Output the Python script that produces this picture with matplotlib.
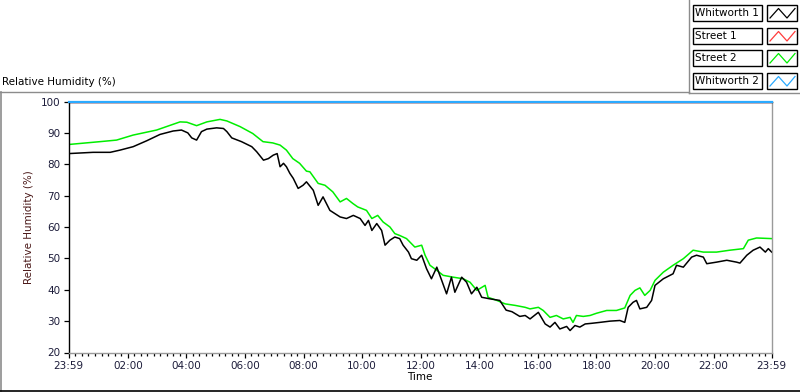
import numpy as np
import matplotlib
matplotlib.use('Agg')
import matplotlib.pyplot as plt
from matplotlib.lines import Line2D
from matplotlib.patches import Rectangle

#%% data (minutes after 23:59 start, relative humidity %)
t_whit1 = [0, 50, 85, 105, 132, 160, 187, 214, 231, 244, 252, 262, 272, 283, 303, 317, 324, 334,
           354, 375, 385, 399, 409, 419, 427, 433, 440, 446, 453, 460, 470, 480, 487, 501, 511,
           521, 535, 545, 556, 569, 583, 597, 607, 614, 621, 631, 641, 648, 658, 668, 678, 685,
           696, 702, 713, 723, 733, 743, 754, 764, 774, 784, 791, 805, 815, 825, 836, 846, 863,
           883, 896, 908, 924, 935, 945, 962, 976, 986, 996, 1006, 1020, 1027, 1037, 1047, 1058,
           1071, 1088, 1109, 1129, 1139, 1146, 1156, 1163, 1170, 1184, 1194, 1201, 1218, 1238,
           1245, 1259, 1276, 1286, 1300, 1307, 1327, 1348, 1368, 1375, 1389, 1402, 1416, 1427,
           1433, 1440]
rh_whit1 = [83.4, 83.8, 83.8, 84.5, 85.6, 87.5, 89.5, 90.6, 90.9, 90.0, 88.4, 87.7, 90.4, 91.2,
            91.6, 91.4, 90.4, 88.4, 87.2, 85.6, 84.0, 81.3, 81.8, 82.9, 83.4, 79.2, 80.3, 79.2,
            77.1, 75.5, 72.3, 73.3, 74.4, 71.7, 66.9, 69.6, 65.3, 64.3, 63.2, 62.7, 63.7, 62.7,
            60.5, 62.1, 58.9, 61.1, 58.9, 54.2, 55.8, 56.8, 56.3, 54.2, 52.0, 49.9, 49.4, 51.0,
            46.7, 43.5, 47.2, 43.0, 38.7, 44.0, 39.2, 44.0, 42.4, 38.7, 40.8, 37.6, 37.1, 36.6,
            33.5, 33.0, 31.5, 31.8, 30.7, 32.8, 29.1, 28.1, 29.6, 27.5, 28.3, 27.0, 28.6, 28.1,
            29.1, 29.3, 29.6, 30.0, 30.2, 29.6, 34.4, 36.0, 36.6, 33.9, 34.4, 36.6, 41.4, 43.5,
            45.1, 47.8, 47.2, 50.4, 51.0, 50.4, 48.3, 48.8, 49.4, 48.8, 48.5, 51.0, 52.6, 53.6,
            52.0, 53.1, 52.0]

t_street2 = [0, 64, 98, 132, 180, 228, 242, 262, 283, 310, 324, 351, 377, 398, 418, 433, 446,
             459, 473, 487, 494, 511, 525, 541, 556, 569, 582, 592, 610, 621, 633, 644, 658, 668,
             678, 692, 709, 723, 730, 740, 754, 767, 788, 808, 822, 836, 853, 859, 877, 894, 915,
             935, 945, 962, 972, 986, 999, 1013, 1027, 1033, 1040, 1054, 1068, 1081, 1102, 1122,
             1139, 1150, 1160, 1170, 1180, 1191, 1201, 1218, 1238, 1259, 1279, 1300, 1327, 1354,
             1382, 1392, 1409, 1440]
rh_street2 = [86.3, 87.2, 87.7, 89.3, 90.9, 93.5, 93.4, 92.3, 93.5, 94.3, 93.8, 92.0, 89.8, 87.2,
              86.8, 86.1, 84.5, 81.8, 80.3, 77.8, 77.6, 73.9, 73.3, 71.2, 68.0, 69.1, 67.5, 66.4,
              65.3, 62.7, 63.7, 61.6, 60.0, 57.9, 57.3, 56.3, 53.6, 54.2, 51.0, 47.8, 46.2, 44.6,
              44.0, 43.5, 42.4, 39.8, 41.4, 37.6, 36.6, 35.5, 35.0, 34.4, 33.9, 34.4, 33.4, 31.2,
              31.8, 30.7, 31.2, 29.6, 31.8, 31.5, 31.8, 32.5, 33.4, 33.4, 34.2, 38.2, 39.8, 40.6,
              38.2, 39.8, 43.0, 45.6, 47.8, 49.9, 52.6, 52.0, 52.0, 52.6, 53.1, 55.8, 56.5, 56.3]

# saturated sensors sit on the 100 % line
t_flat = [0, 1440]
rh_street1 = [100, 100]
rh_whit2 = [100, 100]

series_names = ['Whitworth 1', 'Street 1', 'Street 2', 'Whitworth 2']
series_colors = ['#000000', '#ff3c3c', '#00ee00', '#2aaaff']

tick_pos = [0, 121, 241, 361, 481, 601, 721, 841, 961, 1081, 1201, 1321, 1440]
tick_lab = ['23:59', '02:00', '04:00', '06:00', '08:00', '10:00', '12:00', '14:00',
            '16:00', '18:00', '20:00', '22:00', '23:59']

#%% figure
W, H = 800, 392
plt.rcParams['font.family'] = ['DejaVu Sans']
fig = plt.figure(figsize=(W / 100, H / 100), dpi=100)
fig.patch.set_facecolor('white')

def fx(x):
    return x / W

def fy(y):
    return 1 - y / H

ax = fig.add_axes([fx(68.7), fy(352.5), (771.7 - 68.7) / W, (352.5 - 101.5) / H])

ax.plot(t_flat, rh_street1, color=series_colors[1], lw=1)
ax.plot(t_flat, rh_whit2, color=series_colors[3], lw=1.6, clip_on=False, zorder=5)
ax.plot(t_street2, rh_street2, color=series_colors[2], lw=1.1)
ax.plot(t_whit1, rh_whit1, color=series_colors[0], lw=1.1)

ax.set_xlim(0, 1440)
ax.set_ylim(20, 100)
ax.set_yticks(range(20, 101, 10))
ax.set_xticks(tick_pos)
ax.set_xticklabels(tick_lab)
minor = []
for a, b in zip(tick_pos[:-1], tick_pos[1:]):
    minor += list(np.linspace(a, b, 10)[1:-1])
ax.set_xticks(minor, minor=True)

lab_col = '#1c1c3a'
ax.tick_params(axis='both', which='major', direction='out', length=3.6, width=0.9,
               color='black', labelsize=7.5, labelcolor=lab_col, pad=2.5)
ax.tick_params(axis='x', which='minor', direction='out', length=2.2, width=0.9, color='black')

for s in ['left', 'top']:
    ax.spines[s].set_color('black')
for s in ['right', 'bottom']:
    ax.spines[s].set_color('#9a9a9a')
for s in ax.spines.values():
    s.set_linewidth(1)

ax.set_xlabel('Time', fontsize=7.5, color='black', labelpad=1)
ax.set_ylabel('Relative Humidity (%)', fontsize=7.5, color='#4a1818', labelpad=5)

# panel title and frame lines
fig.text(fx(2), fy(82), 'Relative Humidity (%)', fontsize=7.5, color='black', va='center', ha='left')
gray = '#8c8c8c'
fig.add_artist(Line2D([fx(0), fx(689)], [fy(92.3), fy(92.3)], color=gray, lw=1))
fig.add_artist(Line2D([fx(689), fx(689)], [fy(0), fy(93.3)], color=gray, lw=1))
fig.add_artist(Line2D([fx(689), fx(800)], [fy(93.3), fy(93.3)], color=gray, lw=1))
fig.add_artist(Line2D([fx(0.8), fx(0.8)], [fy(92.3), fy(391)], color=gray, lw=1.2))
fig.add_artist(Line2D([fx(0), fx(800)], [fy(391), fy(391)], color='black', lw=1.2))

# legend boxes
row_top = [5, 28, 50, 73]
for name, col, top in zip(series_names, series_colors, row_top):
    bot = top + 16
    fig.add_artist(Rectangle((fx(693), fy(bot)), 69 / W, 16 / H, transform=fig.transFigure,
                             facecolor='white', edgecolor='black', lw=1))
    fig.add_artist(Rectangle((fx(767), fy(bot)), 30 / W, 16 / H, transform=fig.transFigure,
                             facecolor='white', edgecolor='black', lw=1))
    fig.text(fx(695), fy(top + 8.3), name, fontsize=7.5, color='black', va='center', ha='left')
    zx = [770, 778.5, 787, 795]
    zy = [top + 13, top + 3.5, top + 13, top + 3.5]
    fig.add_artist(Line2D([fx(v) for v in zx], [fy(v) for v in zy], color=col, lw=0.9))

fig.savefig('out.png', dpi=100)
